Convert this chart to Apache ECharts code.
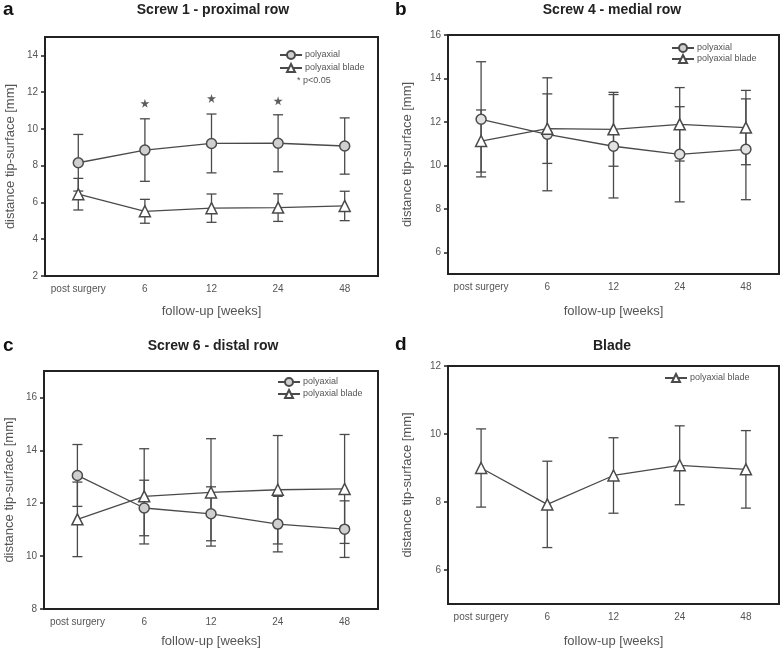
<!DOCTYPE html>
<html>
<head>
<meta charset="utf-8">
<script src="https://cdn.jsdelivr.net/npm/echarts@6/dist/echarts.min.js"></script>
<style>
  html, body { margin: 0; padding: 0; background: #fff; }
  #chart { width: 784px; height: 651px; }
</style>
</head>
<body>
<div id="chart"></div>
<script>
// follow-up time points
const weeks = ['post surgery', '6', '12', '24', '48'];

// a - Screw 1, proximal row
const aPolyMean = [8.16, 8.85, 9.21, 9.22, 9.07];
const aPolySd = [1.54, 1.70, 1.60, 1.55, 1.53];
const aBladeMean = [6.45, 5.52, 5.69, 5.72, 5.81];
const aBladeSd = [0.86, 0.65, 0.77, 0.75, 0.80];
const aStars = [[1, 11.39], [2, 11.66], [3, 11.53]];

// b - Screw 4, medial row
const bPolyMean = [12.12, 11.43, 10.88, 10.51, 10.74];
const bPolySd = [2.65, 2.60, 2.38, 2.19, 2.32];
const bBladeMean = [11.12, 11.69, 11.66, 11.89, 11.74];
const bBladeSd = [1.43, 1.60, 1.70, 1.69, 1.71];

// c - Screw 6, distal row
const cPolyMean = [13.05, 11.82, 11.60, 11.21, 11.02];
const cPolySd = [1.17, 1.05, 1.02, 1.05, 1.07];
const cBladeMean = [11.39, 12.26, 12.41, 12.51, 12.54];
const cBladeSd = [1.41, 1.80, 2.03, 2.05, 2.06];

// d - Blade
const dBladeMean = [9.00, 7.93, 8.78, 9.08, 8.96];
const dBladeSd = [1.15, 1.27, 1.11, 1.16, 1.14];

// y tick labels per panel
const aTicks = [2, 4, 6, 8, 10, 12, 14];
const bTicks = [6, 8, 10, 12, 14, 16];
const cTicks = [8, 10, 12, 14, 16];
const dTicks = [6, 8, 10, 12];

const ink = '#4a4a4a';
const font = 'Liberation Sans, Arial, sans-serif';

const chart = echarts.init(document.getElementById('chart'));

function errData(mean, sd) {
    return mean.map(function (m, i) { return [i, m - sd[i], m + sd[i]]; });
}

function errSeries(idx, mean, sd) {
    return {
        type: 'custom',
        xAxisIndex: idx, yAxisIndex: idx,
        z: 1,
        encode: { x: 0, y: [1, 2] },
        data: errData(mean, sd),
        renderItem: function (params, api) {
            const lo = api.coord([api.value(0), api.value(1)]);
            const hi = api.coord([api.value(0), api.value(2)]);
            const w = 5;
            const st = { stroke: ink, lineWidth: 1.3 };
            return {
                type: 'group',
                children: [
                    { type: 'line', shape: { x1: lo[0], y1: lo[1], x2: hi[0], y2: hi[1] }, style: st },
                    { type: 'line', shape: { x1: lo[0] - w, y1: lo[1], x2: lo[0] + w, y2: lo[1] }, style: st },
                    { type: 'line', shape: { x1: hi[0] - w, y1: hi[1], x2: hi[0] + w, y2: hi[1] }, style: st }
                ]
            };
        }
    };
}

function polySeries(idx, mean, fill) {
    return {
        name: 'polyaxial', type: 'line',
        xAxisIndex: idx, yAxisIndex: idx, z: 3,
        data: mean,
        symbol: 'circle', symbolSize: 10,
        itemStyle: { color: fill, borderColor: ink, borderWidth: 1.5 },
        lineStyle: { color: ink, width: 1.3 }
    };
}

function bladeSeries(idx, mean) {
    return {
        name: 'polyaxial blade', type: 'line',
        xAxisIndex: idx, yAxisIndex: idx, z: 3,
        data: mean,
        symbol: 'triangle', symbolSize: 11,
        itemStyle: { color: '#fff', borderColor: ink, borderWidth: 1.5 },
        lineStyle: { color: ink, width: 1.3 }
    };
}

const grids = [
    { left: 45, top: 37, width: 333, height: 239 },
    { left: 448, top: 35, width: 331, height: 239 },
    { left: 44, top: 371, width: 334, height: 238 },
    { left: 448, top: 366, width: 331, height: 238 }
];
const yRanges = [[2, 15, aTicks], [5, 16, bTicks], [8, 17, cTicks], [5, 12, dTicks]];
const xNameGaps = [29, 31, 26, 31];
const yNameGaps = [28, 34, 28, 34];

const xAxes = grids.map(function (g, i) {
    return {
        type: 'category', gridIndex: i, data: weeks,
        name: 'follow-up [weeks]', nameLocation: 'middle', nameGap: xNameGaps[i],
        nameTextStyle: { fontSize: 13, color: '#555' },
        axisLine: { show: false },
        axisTick: { alignWithLabel: true, length: 4, lineStyle: { color: '#222', width: 1.5 } },
        axisLabel: { interval: 0, fontSize: 10, color: '#555', margin: 8 },
        splitLine: { show: false }
    };
});

const yAxes = yRanges.map(function (r, i) {
    return {
        type: 'value', gridIndex: i, min: r[0], max: r[1],
        name: 'distance tip-surface [mm]', nameLocation: 'middle', nameGap: yNameGaps[i],
        nameTextStyle: { fontSize: 13, color: '#555' },
        axisLine: { show: false },
        axisTick: { show: true, length: 4, customValues: r[2], lineStyle: { color: '#222', width: 1.5 } },
        axisLabel: { fontSize: 10, color: '#555', margin: 7, customValues: r[2] },
        splitLine: { show: false }
    };
});

const legendBase = {
    orient: 'vertical', itemWidth: 22, itemHeight: 10, padding: 0,
    selectedMode: false,
    textStyle: { fontSize: 9, color: '#555', padding: [0, 0, 0, -2] }
};

const option = {
    animation: false,
    backgroundColor: '#fff',
    textStyle: { fontFamily: font },
    title: [
        { text: 'a', left: 3, top: 0, padding: 0, textStyle: { fontSize: 19, fontWeight: 'bold', color: '#111' } },
        { text: 'b', left: 395, top: 0, padding: 0, textStyle: { fontSize: 19, fontWeight: 'bold', color: '#111' } },
        { text: 'c', left: 3, top: 336, padding: 0, textStyle: { fontSize: 19, fontWeight: 'bold', color: '#111' } },
        { text: 'd', left: 395, top: 335, padding: 0, textStyle: { fontSize: 19, fontWeight: 'bold', color: '#111' } },
        { text: 'Screw 1 - proximal row', left: 213, top: 3, padding: 0, textAlign: 'center', textStyle: { fontSize: 14, fontWeight: 'bold', color: '#222' } },
        { text: 'Screw 4 - medial row', left: 612, top: 3, padding: 0, textAlign: 'center', textStyle: { fontSize: 14, fontWeight: 'bold', color: '#222' } },
        { text: 'Screw 6 - distal row', left: 213, top: 339, padding: 0, textAlign: 'center', textStyle: { fontSize: 14, fontWeight: 'bold', color: '#222' } },
        { text: 'Blade', left: 612, top: 339, padding: 0, textAlign: 'center', textStyle: { fontSize: 14, fontWeight: 'bold', color: '#222' } }
    ],
    legend: [
        Object.assign({}, legendBase, { left: 279, top: 50, itemGap: 3, data: ['polyaxial', 'polyaxial blade'] }),
        Object.assign({}, legendBase, { left: 671, top: 43, itemGap: 1, data: ['polyaxial', 'polyaxial blade'] }),
        Object.assign({}, legendBase, { left: 277, top: 377, itemGap: 2, data: ['polyaxial', 'polyaxial blade'] }),
        Object.assign({}, legendBase, { left: 664, top: 373, itemGap: 2, data: ['polyaxial blade'] })
    ],
    graphic: [
        { type: 'text', left: 297, top: 76, style: { text: '* p<0.05', fontSize: 9, fill: '#555', fontFamily: font } }
    ],
    grid: grids.map(function (g) {
        return Object.assign({ show: true, borderWidth: 2, borderColor: '#222', backgroundColor: 'transparent' }, g);
    }),
    xAxis: xAxes,
    yAxis: yAxes,
    series: [
        errSeries(0, aPolyMean, aPolySd),
        errSeries(0, aBladeMean, aBladeSd),
        polySeries(0, aPolyMean, '#cfcfcf'),
        bladeSeries(0, aBladeMean),
        {
            type: 'scatter', xAxisIndex: 0, yAxisIndex: 0,
            data: aStars,
            symbol: 'path://M50,0 L61,35 L98,35 L68,57 L79,91 L50,70 L21,91 L32,57 L2,35 L39,35 Z',
            symbolSize: 9,
            itemStyle: { color: '#333' }
        },

        errSeries(1, bPolyMean, bPolySd),
        errSeries(1, bBladeMean, bBladeSd),
        polySeries(1, bPolyMean, '#e2e2e2'),
        bladeSeries(1, bBladeMean),

        errSeries(2, cPolyMean, cPolySd),
        errSeries(2, cBladeMean, cBladeSd),
        polySeries(2, cPolyMean, '#cfcfcf'),
        bladeSeries(2, cBladeMean),

        errSeries(3, dBladeMean, dBladeSd),
        bladeSeries(3, dBladeMean)
    ]
};

chart.setOption(option);
</script>
</body>
</html>
